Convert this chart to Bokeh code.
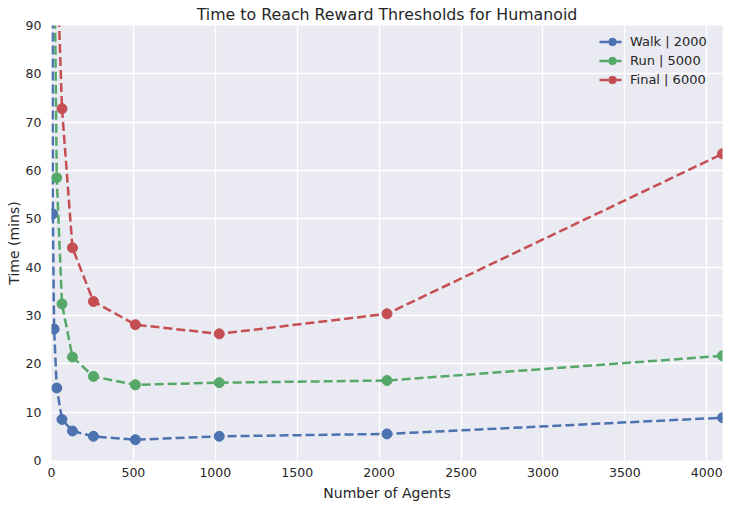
from bokeh.plotting import figure
from bokeh.embed import file_html
from bokeh.resources import INLINE
from bokeh.models import SingleIntervalTicker, Range1d

# Data
walk_agents = [4, 8, 16, 32, 64, 128, 256, 512, 1024, 2048, 4096]
walk_mins = [180, 51.0, 27.2, 15.0, 8.5, 6.1, 5.0, 4.3, 5.0, 5.5, 8.85]

run_agents = [16, 32, 64, 128, 256, 512, 1024, 2048, 4096]
run_mins = [110, 58.5, 32.4, 21.4, 17.4, 15.65, 16.1, 16.55, 21.65]

final_agents = [32, 64, 128, 256, 512, 1024, 2048, 4096]
final_mins = [105, 72.8, 44.0, 32.9, 28.1, 26.2, 30.35, 63.45]

series = [
    ("Walk | 2000", walk_agents, walk_mins, "#4C72B0"),
    ("Run | 5000", run_agents, run_mins, "#55A868"),
    ("Final | 6000", final_agents, final_mins, "#C44E52"),
]

FONT = "DejaVu Sans"
TXT = "#262626"

p = figure(width=729, height=507, output_backend="svg", toolbar_location=None,
           x_range=Range1d(0, 4096), y_range=Range1d(0, 90),
           title="Time to Reach Reward Thresholds for Humanoid",
           min_border_left=51, min_border_right=7, min_border_top=17, min_border_bottom=47)

p.background_fill_color = "#EAEAF2"
p.border_fill_color = "white"
p.outline_line_color = None

p.title.text_font = FONT
p.title.text_font_size = "15.8px"
p.title.text_font_style = "normal"
p.title.text_color = TXT
p.title.align = "center"
p.title.standoff = 4

for ax in (p.xaxis[0], p.yaxis[0]):
    ax.axis_line_color = None
    ax.major_tick_line_color = None
    ax.minor_tick_line_color = None
    ax.major_tick_out = 0
    ax.major_tick_in = 0
    ax.minor_tick_out = 0
    ax.minor_tick_in = 0
    ax.major_label_text_font = FONT
    ax.major_label_text_font_size = "12.5px"
    ax.major_label_text_color = TXT
    ax.axis_label_text_font = FONT
    ax.axis_label_text_font_size = "14px"
    ax.axis_label_text_font_style = "normal"
    ax.axis_label_text_color = TXT

p.xaxis.ticker = SingleIntervalTicker(interval=500)
p.yaxis.ticker = SingleIntervalTicker(interval=10)
p.xaxis.axis_label = "Number of Agents"
p.yaxis.axis_label = "Time (mins)"
p.xaxis.major_label_standoff = 7
p.yaxis.major_label_standoff = 10
p.xaxis.axis_label_standoff = 5
p.yaxis.axis_label_standoff = 1

p.grid.grid_line_color = "white"
p.grid.grid_line_width = 1.3

for label, xs, ys, color in series:
    p.line(xs, ys, line_color=color, line_width=2.5, line_dash="9 4", legend_label=label)
    p.scatter(xs, ys, marker="circle", size=10, fill_color=color, line_color=color, legend_label=label)

p.legend.location = "top_right"
p.legend.background_fill_alpha = 0
p.legend.border_line_color = None
p.legend.label_text_font = FONT
p.legend.label_text_font_size = "13px"
p.legend.label_text_color = TXT
p.legend.glyph_width = 26
p.legend.label_width = 85
p.legend.spacing = 0
p.legend.label_height = 19
p.legend.glyph_height = 19
p.legend.padding = 4
p.legend.margin = 7

open("out.html", "w").write(file_html(p, INLINE))
